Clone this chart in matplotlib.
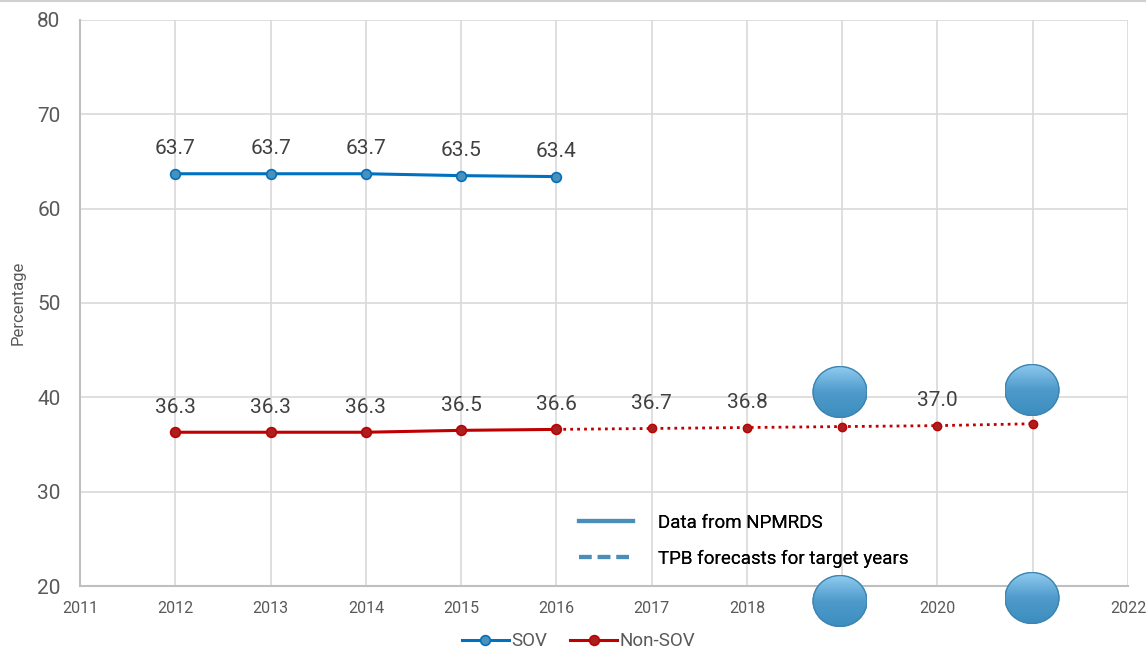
import numpy as np
import matplotlib.pyplot as plt
from matplotlib.lines import Line2D
from matplotlib.patches import Ellipse
from matplotlib.colors import LinearSegmentedColormap

plt.rcParams['font.family'] = ['Roboto', 'DejaVu Sans']

years = [2012, 2013, 2014, 2015, 2016]
sov = [63.7, 63.7, 63.7, 63.5, 63.4]
non_sov = [36.3, 36.3, 36.3, 36.5, 36.6]
fc_years = [2016, 2017, 2018, 2019, 2020, 2021]
fc_non_sov = [36.6, 36.7, 36.8, 36.9, 37.0, 37.2]
fc_labels = ["", "36.7", "36.8", "", "37.0", ""]

SOV_C = "#0070C0"
NON_C = "#C00000"
LEG_C = "#4A8DB8"

fig = plt.figure(figsize=(11.46, 6.53), dpi=100)
ax = fig.add_axes([0.0698, 0.1026, 0.9145, 0.8668])

ax.plot(years, sov, color=SOV_C, lw=2.2, marker="o", ms=7,
        mfc="#4A90B8", mec=SOV_C, mew=1.2, label="SOV", zorder=3)
ax.plot(years, non_sov, color=NON_C, lw=2.2, marker="o", ms=7,
        mfc="#A82020", mec=NON_C, mew=1.2, label="Non-SOV", zorder=3)
ax.plot(fc_years, fc_non_sov, color=NON_C, lw=2, ls=(0, (1, 1.5)), marker="o",
        ms=6, mfc="#A82020", mec=NON_C, zorder=2)

for x, y in zip(years, sov):
    ax.annotate(f"{y:.1f}", (x, y), xytext=(0, 11), textcoords="offset points",
                ha="center", va="bottom", fontsize=15, color="#404040")
for x, y in zip(years, non_sov):
    ax.annotate(f"{y:.1f}", (x, y), xytext=(0, 11), textcoords="offset points",
                ha="center", va="bottom", fontsize=15, color="#404040")
for x, y, t in zip(fc_years, fc_non_sov, fc_labels):
    if t:
        ax.annotate(t, (x, y), xytext=(0, 11), textcoords="offset points",
                    ha="center", va="bottom", fontsize=15, color="#404040")

ax.set_xlim(2011, 2022)
ax.set_ylim(20, 80)
ax.set_xticks(range(2011, 2023))
ax.set_yticks(range(20, 81, 10))
ax.tick_params(axis="x", labelsize=11.5, colors="#595959", length=0, pad=11)
ax.tick_params(axis="y", labelsize=15, colors="#595959", length=0, pad=14)
ax.grid(True, color="#D9D9D9", lw=1.2)
ax.set_axisbelow(True)
for s in ["top", "right"]:
    ax.spines[s].set_visible(False)
for s in ["left", "bottom"]:
    ax.spines[s].set_color("#BFBFBF")
    ax.spines[s].set_linewidth(1.5)
ax.set_ylabel("Percentage", fontsize=12, color="#595959", labelpad=8)

# inner legend
h1 = [Line2D([], [], color=LEG_C, lw=3),
      Line2D([], [], color=LEG_C, lw=3, ls=(0, (3, 1.5)))]
leg1 = ax.legend(h1, ["Data from NPMRDS", "TPB forecasts for target years"],
                 loc="upper left", bbox_to_anchor=(0.46, 0.157), frameon=False,
                 fontsize=13.5, handlelength=2.9, handletextpad=1.3,
                 labelspacing=0.95, labelcolor="#000000")
ax.add_artist(leg1)

# bottom legend
h2, l2 = ax.get_legend_handles_labels()
fig.legend(h2, l2, loc="lower center", bbox_to_anchor=(0.505, -0.022), ncol=2,
           frameon=False, fontsize=13.5, handlelength=2.5, handletextpad=0.15,
           columnspacing=1.2, labelcolor="#595959")

# decorative circles
cmap = LinearSegmentedColormap.from_list("g", ["#3C8EBE", "#4E9ACB", "#90CBF0"])
grad = np.linspace(0, 1, 64).reshape(-1, 1)
for cx, cy in [(840, 392), (1032, 390), (840, 601), (1032, 598)]:
    ax_img = fig.add_axes([(cx - 27.5) / 1146, 1 - (cy + 26) / 653,
                           55 / 1146, 52 / 653], zorder=12)
    ax_img.set_axis_off()
    img = ax_img.imshow(grad, extent=[0, 1, 0, 1], aspect="auto",
                        cmap=cmap, origin="lower")
    img.set_clip_path(Ellipse((0.5, 0.5), 1, 1, transform=ax_img.transAxes))
    ax_img.add_patch(Ellipse((0.5, 0.5), 0.98, 0.98, transform=ax_img.transAxes,
                             fill=False, edgecolor="#3E84B0", lw=1))
    ax_img.set_xlim(0, 1)
    ax_img.set_ylim(0, 1)

fig.add_artist(Line2D([0, 1], [0.998, 0.998], color="#D0D0D0", lw=1.5,
                      transform=fig.transFigure))

fig.savefig("out.png", dpi=100)
